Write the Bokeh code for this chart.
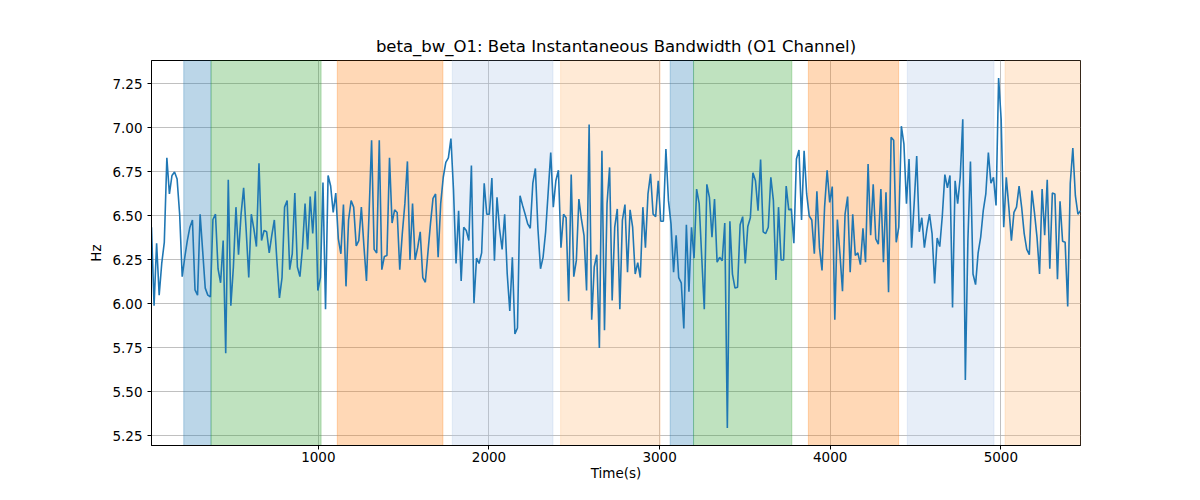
import numpy as np
from bokeh.plotting import figure
from bokeh.models import Range1d, FixedTicker, NumeralTickFormatter, ColumnDataSource
from bokeh.embed import file_html
from bokeh.resources import INLINE

# beta bandwidth on O1, one sample every 15 s
t0 = 22
dt = 15
bandwidth = [
    6.436, 5.99, 6.345, 6.05, 6.23, 6.35, 6.83, 6.625, 6.73, 6.75,
    6.71, 6.51, 6.155, 6.265, 6.36, 6.436, 6.477, 6.08, 6.05, 6.51,
    6.30, 6.09, 6.05, 6.04, 6.48, 6.51, 6.20, 6.12, 6.36, 5.72,
    6.706, 5.99, 6.21, 6.55, 6.28, 6.51, 6.66, 6.417, 6.15, 6.51,
    6.426, 6.326, 6.80, 6.36, 6.417, 6.41, 6.29, 6.39, 6.477, 6.246,
    6.034, 6.15, 6.55, 6.587, 6.195, 6.285, 6.63, 6.21, 6.155, 6.32,
    6.57, 6.31, 6.61, 6.40, 6.64, 6.076, 6.15, 6.69, 5.97, 6.73,
    6.67, 6.52, 6.63, 6.37, 6.285, 6.565, 6.10, 6.477, 6.587, 6.55,
    6.33, 6.36, 6.55, 6.33, 6.13, 6.51, 6.93, 6.31, 6.29, 6.93,
    6.195, 6.27, 6.275, 6.83, 6.46, 6.535, 6.52, 6.195, 6.40, 6.57,
    6.81, 6.25, 6.57, 6.25, 6.32, 6.41, 6.15, 6.123, 6.29, 6.455,
    6.60, 6.625, 6.265, 6.57, 6.72, 6.805, 6.83, 6.94, 6.65, 6.23,
    6.53, 6.13, 6.436, 6.417, 6.36, 6.786, 6.004, 6.26, 6.23, 6.29,
    6.686, 6.51, 6.51, 6.716, 6.246, 6.606, 6.426, 6.31, 6.51, 6.17,
    5.96, 6.265, 5.83, 5.863, 6.615, 6.56, 6.51, 6.455, 6.43, 6.686,
    6.77, 6.426, 6.20, 6.265, 6.41, 6.635, 6.86, 6.55, 6.70, 6.76,
    6.32, 6.51, 6.49, 6.015, 6.735, 6.155, 6.246, 6.596, 6.48, 6.39,
    6.076, 7.02, 5.91, 6.21, 6.28, 5.75, 6.87, 5.85, 6.57, 6.776,
    6.02, 6.436, 6.54, 5.97, 6.477, 6.565, 6.18, 6.535, 6.436, 6.17,
    6.235, 6.15, 6.55, 6.32, 6.625, 6.74, 6.51, 6.496, 6.70, 6.47,
    6.47, 6.88, 6.587, 6.455, 6.18, 6.39, 6.15, 6.12, 5.86, 6.45,
    6.07, 6.436, 6.26, 6.653, 6.57, 6.265, 5.97, 6.68, 6.606, 6.38,
    6.596, 6.237, 6.265, 6.246, 6.46, 5.295, 6.47, 6.17, 6.09, 6.095,
    6.45, 6.496, 6.23, 6.44, 6.49, 6.746, 6.70, 6.53, 6.82, 6.41,
    6.40, 6.436, 6.72, 6.587, 6.136, 6.55, 6.25, 6.25, 6.67, 6.535,
    6.54, 6.345, 6.824, 6.875, 6.477, 6.87, 6.625, 6.50, 6.477, 6.285,
    6.64, 6.32, 6.19, 6.55, 6.76, 6.577, 6.667, 5.91, 6.48, 6.285,
    6.072, 6.51, 6.61, 6.18, 6.51, 6.275, 6.29, 6.223, 6.43, 6.237,
    6.795, 6.39, 6.68, 6.37, 6.34, 6.653, 6.237, 6.635, 6.066, 6.947,
    6.93, 6.35, 6.436, 7.01, 6.91, 6.57, 6.824, 6.32, 6.57, 6.84,
    6.41, 6.49, 6.32, 6.426, 6.51, 6.40, 6.117, 6.375, 6.326, 6.50,
    6.735, 6.66, 6.73, 5.98, 6.70, 6.57, 6.72, 7.05, 5.568, 6.36,
    6.81, 6.17, 6.11, 6.29, 6.38, 6.53, 6.625, 6.86, 6.686, 6.72,
    6.56, 7.284, 7.05, 6.436, 6.72, 6.55, 6.36, 6.52, 6.55, 6.67,
    6.55, 6.40, 6.31, 6.28, 6.644, 6.52, 6.38, 6.17, 6.653, 6.39,
    6.706, 6.20, 6.63, 6.625, 6.14, 6.583, 6.356, 6.35, 5.985, 6.686,
    6.886, 6.615, 6.51, 6.53,
]
time_s = t0 + dt * np.arange(len(bandwidth))

# shaded stages
span_start = [211, 371, 1111, 1785, 2420, 3062, 3199, 3872, 4452, 5025]
span_end = [371, 1016, 1730, 2375, 3003, 3199, 3775, 4401, 4960, 5470]
span_kind = ["a", "b", "c", "d", "e", "a", "b", "c", "d", "e"]
kind_color = {"a": "#1f77b4", "b": "#2ca02c", "c": "#ff7f0e", "d": "#aec7e8", "e": "#ffbb78"}

x_ticks = [1000, 2000, 3000, 4000, 5000]
y_ticks = [5.25, 5.50, 5.75, 6.00, 6.25, 6.50, 6.75, 7.00, 7.25]

ymin, ymax = min(bandwidth), max(bandwidth)
pad = 0.05 * (ymax - ymin)

p = figure(width=1184, height=484, output_backend="svg", toolbar_location=None,
           x_range=Range1d(time_s[0], time_s[-1]), y_range=Range1d(ymin - pad, ymax + pad),
           title="beta_bw_O1: Beta Instantaneous Bandwidth (O1 Channel)",
           x_axis_label="Time(s)", y_axis_label="Hz",
           min_border_left=151, min_border_right=104, min_border_top=60, min_border_bottom=39)

spans = ColumnDataSource(dict(left=span_start, right=span_end,
                              color=[kind_color[k] for k in span_kind]))
p.quad(left="left", right="right", bottom=ymin - 1, top=ymax + 1, source=spans,
       fill_color="color", fill_alpha=0.3, line_color="color", line_alpha=0.3, line_width=1)

p.line(time_s, bandwidth, line_color="#1f77b4", line_width=1.6)

p.title.align = "center"
p.title.text_font = "DejaVu Sans"
p.title.text_font_size = "16.5px"
p.title.text_font_style = "normal"
p.title.text_color = "black"

for ax in [p.xaxis[0], p.yaxis[0]]:
    ax.axis_label_text_font = "DejaVu Sans"
    ax.axis_label_text_font_size = "13.5px"
    ax.axis_label_text_font_style = "normal"
    ax.axis_label_text_color = "black"
    ax.major_label_text_font = "DejaVu Sans"
    ax.major_label_text_font_size = "13.5px"
    ax.major_label_text_color = "black"
    ax.axis_line_color = "black"
    ax.major_tick_line_color = "black"
    ax.major_tick_out = 4
    ax.major_tick_in = 0
    ax.minor_tick_line_color = None

p.xaxis.major_label_standoff = 2
p.xaxis.axis_label_standoff = 0

p.xaxis.ticker = FixedTicker(ticks=x_ticks)
p.yaxis.ticker = FixedTicker(ticks=y_ticks)
p.yaxis.formatter = NumeralTickFormatter(format="0.00")

p.grid.grid_line_color = "#b0b0b0"
p.grid.grid_line_alpha = 1
p.grid.grid_line_width = 0.8
p.outline_line_color = "black"
p.outline_line_alpha = 1
p.outline_line_width = 1
p.background_fill_color = "white"

open("out.html", "w").write(file_html(p, INLINE))
